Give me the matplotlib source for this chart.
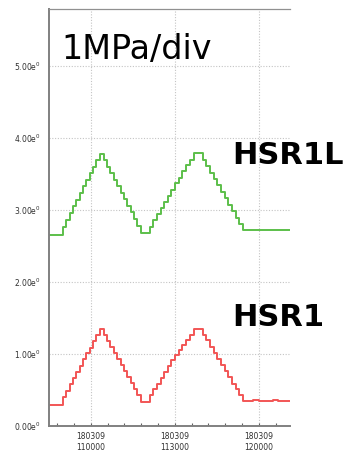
import matplotlib.pyplot as plt
from matplotlib.ticker import FixedLocator, MultipleLocator

# tiempo en minutos desde las 10:00 (inicio de cada escalon)
tiempos = [45.0, 50.0, 51.2, 52.4, 53.6, 54.8, 56.0, 57.2, 58.4, 59.6, 60.8, 62.0,
           63.2, 64.6, 65.8, 67.0, 68.2, 69.4, 70.6, 71.8, 73.0, 74.2, 75.4, 76.6,
           78.0, 81.0, 82.3, 83.6, 84.9, 86.2, 87.5, 88.8, 90.1, 91.4, 92.7, 94.0,
           95.4, 97.0, 100.0, 101.3, 102.6, 103.9, 105.2, 106.5, 107.8, 109.1, 110.4,
           111.7, 113.0, 114.4, 118.0, 120.0, 125.0, 127.0, 131.2]

# HSR1 (rojo)
hsr1 = [0.29, 0.40, 0.49, 0.58, 0.66, 0.75, 0.84, 0.93, 1.01, 1.09, 1.18, 1.26,
        1.35, 1.26, 1.18, 1.10, 1.01, 0.93, 0.85, 0.76, 0.68, 0.60, 0.51, 0.43,
        0.34, 0.43, 0.51, 0.59, 0.67, 0.75, 0.83, 0.91, 0.99, 1.06, 1.13, 1.20,
        1.27, 1.35, 1.27, 1.19, 1.10, 1.02, 0.93, 0.85, 0.76, 0.68, 0.59,
        0.51, 0.43, 0.35, 0.36, 0.35, 0.36, 0.35, 0.35]

# HSR1L (verde)
hsr1l = [2.65, 2.77, 2.86, 2.96, 3.05, 3.14, 3.24, 3.33, 3.42, 3.51, 3.60, 3.69,
         3.78, 3.69, 3.60, 3.51, 3.42, 3.33, 3.24, 3.15, 3.06, 2.97, 2.87, 2.78,
         2.68, 2.77, 2.86, 2.94, 3.03, 3.11, 3.20, 3.28, 3.37, 3.45, 3.54, 3.62,
         3.70, 3.79, 3.70, 3.61, 3.52, 3.43, 3.34, 3.25, 3.16, 3.07, 2.98,
         2.89, 2.80, 2.72, 2.72, 2.72, 2.72, 2.72, 2.72]

ticks_x = [60, 90, 120]
etiquetas_x = ["180309\n110000", "180309\n113000", "180309\n120000"]
ticks_y = [0, 1, 2, 3, 4, 5]
etiquetas_y = [r"%.2fe$^{0}$" % v for v in ticks_y]

fig = plt.figure(figsize=(3.52, 4.54), dpi=100)
ax = fig.add_axes([0.139, 0.0617, 0.685, 0.9183])

ax.plot(tiempos, hsr1l, drawstyle='steps-post', color='#5cbf4a', lw=1.4)
ax.plot(tiempos, hsr1, drawstyle='steps-post', color='#f25555', lw=1.4)

ax.set_xlim(45, 131.2)
ax.set_ylim(0, 5.79)

ax.xaxis.set_major_locator(FixedLocator(ticks_x))
ax.set_xticklabels(etiquetas_x, fontsize=5.5, color='#303030', linespacing=1.3)
ax.xaxis.set_minor_locator(MultipleLocator(6))
ax.set_yticks(ticks_y)
ax.set_yticklabels(etiquetas_y, fontsize=5.5, color='#303030')

ax.tick_params(axis='x', which='both', direction='in', length=2.5, width=0.8,
               color='#606060', pad=4)
ax.tick_params(axis='y', length=0, pad=6)

ax.grid(True, color='#c4c4c4', lw=0.8, linestyle=(0, (1, 1.5)))

for lado in ['left', 'bottom']:
    ax.spines[lado].set_color('#808080')
    ax.spines[lado].set_linewidth(1.4)
ax.spines['top'].set_color('#909090')
ax.spines['top'].set_linewidth(0.9)
ax.spines['right'].set_visible(False)

fig.text(61/352, 1 - 49/454, "1MPa/div", fontsize=24, color='black',
         va='center', ha='left')
fig.text(232/352, 1 - 156/454, "HSR1L", fontsize=22, fontweight='bold',
         color='black', va='center', ha='left')
fig.text(232/352, 1 - 317/454, "HSR1", fontsize=22, fontweight='bold',
         color='black', va='center', ha='left')

fig.savefig('out.png', dpi=100)
